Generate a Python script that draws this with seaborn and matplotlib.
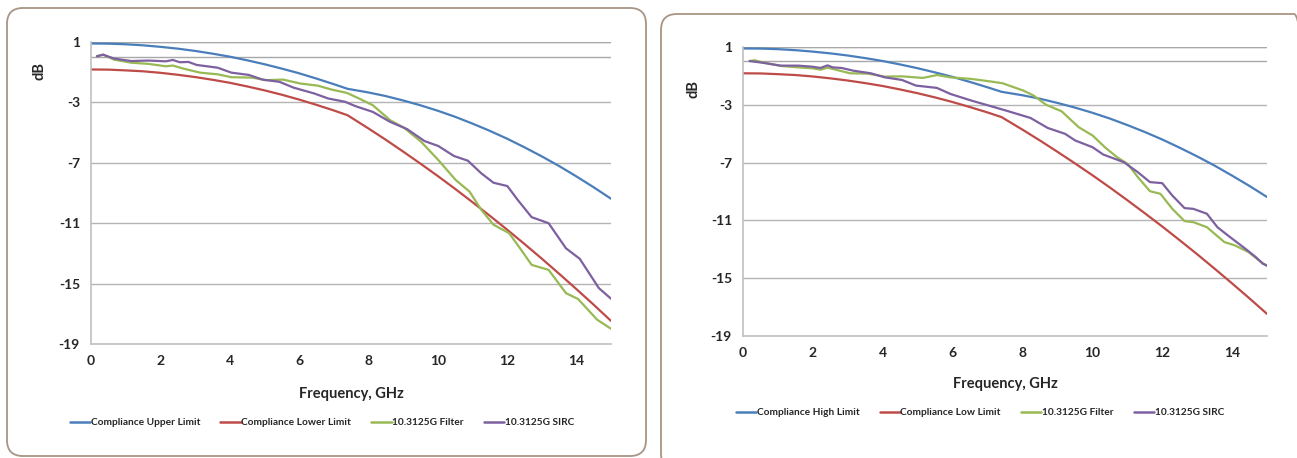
import numpy as np
import pandas as pd
import seaborn as sns
import matplotlib
matplotlib.use("Agg")
import matplotlib.pyplot as plt
from matplotlib.patches import FancyBboxPatch

# ---------------- data ----------------
limit_freq = [0, 0.5, 1, 1.5, 2, 2.5, 3, 3.5, 4, 4.5, 5, 5.5, 6, 6.5, 7, 7.4,
              8, 8.5, 9, 9.5, 10, 10.5, 11, 11.5, 12, 12.5, 13, 13.5, 14, 14.5, 15]
upper_limit = [0.90, 0.89, 0.85, 0.78, 0.68, 0.56, 0.41, 0.23, 0.03, -0.21, -0.47, -0.76,
               -1.07, -1.42, -1.79, -2.10, -2.34, -2.58, -2.87, -3.19, -3.55, -3.95, -4.40,
               -4.88, -5.40, -5.97, -6.57, -7.21, -7.90, -8.62, -9.38]
lower_limit = [-0.82, -0.83, -0.88, -0.94, -1.04, -1.17, -1.32, -1.50, -1.70, -1.94, -2.20,
               -2.49, -2.81, -3.16, -3.53, -3.85, -4.72, -5.47, -6.25, -7.05, -7.87, -8.72,
               -9.60, -10.50, -11.42, -12.37, -13.34, -14.34, -15.36, -16.40, -17.47]

# Left chart measurements
left_sirc_freq = [0.17, 0.35, 0.67, 1.16, 1.66, 2.16, 2.36, 2.56, 2.81, 3.05, 3.65, 4.05, 4.55,
                  4.95, 5.44, 5.84, 6.44, 6.84, 7.33, 7.63, 8.13, 8.63, 9.12, 9.62, 10.02, 10.47,
                  10.87, 11.26, 11.61, 12.01, 12.31, 12.71, 13.20, 13.70, 14.10, 14.65, 15.0]
left_sirc = [0.05, 0.16, -0.10, -0.26, -0.23, -0.28, -0.19, -0.34, -0.32, -0.52, -0.70, -1.03,
             -1.18, -1.49, -1.64, -2.02, -2.41, -2.74, -2.96, -3.25, -3.63, -4.29, -4.77, -5.56,
             -5.89, -6.55, -6.86, -7.70, -8.32, -8.54, -9.46, -10.60, -11.00, -12.66, -13.36,
             -15.30, -16.00]
left_filter_freq = [0.17, 0.35, 0.67, 1.16, 1.66, 2.16, 2.36, 2.66, 3.15, 3.65, 4.05, 4.65, 5.04,
                    5.54, 6.04, 6.54, 6.94, 7.38, 7.73, 8.13, 8.63, 9.03, 9.52, 10.02, 10.52,
                    10.92, 11.26, 11.61, 12.06, 12.41, 12.71, 13.20, 13.70, 14.05, 14.60, 15.0]
left_filter = [0.07, 0.16, -0.17, -0.37, -0.45, -0.61, -0.56, -0.76, -1.03, -1.14, -1.33, -1.36,
               -1.53, -1.49, -1.75, -1.89, -2.15, -2.37, -2.74, -3.19, -4.18, -4.68, -5.60, -6.82,
               -8.14, -8.91, -10.12, -11.10, -11.66, -12.77, -13.76, -14.09, -15.63, -16.02,
               -17.39, -17.99]

# Right chart measurements
right_sirc_freq = [0.19, 0.59, 1.08, 1.58, 1.97, 2.22, 2.42, 2.57, 2.82, 3.16, 3.66, 4.06, 4.55,
                   4.95, 5.55, 5.94, 6.54, 7.13, 7.53, 8.23, 8.72, 9.22, 9.51, 10.01, 10.31,
                   10.90, 11.30, 11.65, 12.00, 12.29, 12.64, 12.89, 13.28, 13.58, 13.88, 14.38,
                   14.68, 14.88, 15.0]
right_sirc = [0.03, -0.10, -0.29, -0.29, -0.36, -0.45, -0.27, -0.41, -0.45, -0.64, -0.82, -1.10,
              -1.28, -1.67, -1.83, -2.25, -2.71, -3.12, -3.40, -3.91, -4.60, -5.01, -5.47, -5.94,
              -6.44, -6.97, -7.66, -8.35, -8.42, -9.28, -10.15, -10.20, -10.54, -11.47, -12.04,
              -12.96, -13.54, -14.00, -14.12]
right_filter_freq = [0.19, 0.34, 0.59, 1.08, 1.58, 1.97, 2.22, 2.42, 2.77, 3.07, 3.56, 4.06, 4.55,
                     5.15, 5.55, 5.94, 6.54, 7.13, 7.43, 8.03, 8.32, 8.67, 9.12, 9.61, 10.01,
                     10.36, 10.71, 11.01, 11.30, 11.65, 11.95, 12.29, 12.64, 12.89, 13.28, 13.78,
                     14.08, 14.47, 14.77, 15.0]
right_filter = [0.03, 0.08, -0.08, -0.31, -0.41, -0.47, -0.57, -0.43, -0.64, -0.82, -0.84, -1.05,
                -1.03, -1.14, -0.94, -1.10, -1.21, -1.40, -1.51, -2.02, -2.36, -2.99, -3.45,
                -4.55, -5.13, -5.94, -6.63, -7.09, -8.00, -8.98, -9.16, -10.20, -11.05, -11.12,
                -11.47, -12.50, -12.73, -13.19, -13.77, -14.16]

left_labels = ["Compliance Upper Limit", "Compliance Lower Limit", "10.3125G Filter", "10.3125G SIRC"]
right_labels = ["Compliance High Limit", "Compliance Low Limit", "10.3125G Filter", "10.3125G SIRC"]
y_ticks = [1, -3, -7, -11, -15, -19]
x_ticks = [0, 2, 4, 6, 8, 10, 12, 14]

colors = ["#4A7EBB", "#BE4B48", "#98B954", "#7D60A0"]

# ---------------- style ----------------
sns.set_style("white")
plt.rcParams['font.family'] = ['Lato', 'DejaVu Sans']
plt.rcParams['axes.unicode_minus'] = False

W, H = 1297, 458
fig = plt.figure(figsize=(W / 100, H / 100), dpi=100)

def px_axes(x0, x1, ytop, ybot):
    return fig.add_axes([x0 / W, (H - ybot) / H, (x1 - x0) / W, (ybot - ytop) / H])

# frames
for (fx0, fy0, fx1, fy1) in [(7, 8, 646, 456), (661, 14, 1310, 470)]:
    patch = FancyBboxPatch((fx0 / 100, (H - fy1) / 100), (fx1 - fx0) / 100, (fy1 - fy0) / 100,
                           boxstyle="round,pad=0,rounding_size=0.16",
                           transform=fig.dpi_scale_trans, facecolor="none",
                           edgecolor="#A89484", linewidth=1.3, zorder=0)
    fig.patches.append(patch)

def draw(ax, series, labels, legend_x, legend_y, xlabel_pad):
    for (fx, fy), lab, col in zip(series, labels, colors):
        df = pd.DataFrame({"f": fx, "v": fy})
        sns.lineplot(data=df, x="f", y="v", ax=ax, color=col, linewidth=1.6,
                     label=lab, sort=False, estimator=None)
    ax.set_xlim(0, 15)
    ax.set_ylim(-19, 1)
    ax.set_yticks(y_ticks)
    ax.set_xticks(x_ticks)
    ax.tick_params(axis="both", length=0, labelsize=10, pad=8)
    for t in ax.get_xticklabels() + ax.get_yticklabels():
        t.set_fontweight("bold")
    ax.grid(axis="y", color="#B4B4B4", linewidth=1.0)
    ax.grid(axis="x", visible=False)
    ax.axhline(0, color="#A8A8A8", linewidth=1.0, zorder=1)
    ax.axhline(1, color="#A8A8A8", linewidth=1.0, zorder=1)
    for s in ["top", "right"]:
        ax.spines[s].set_visible(False)
    ax.spines["left"].set_color("#C0C0C0")
    ax.spines["bottom"].set_color("#C0C0C0")
    ax.spines["left"].set_linewidth(1.2)
    ax.spines["bottom"].set_linewidth(1.2)
    ax.set_xlabel("Frequency, GHz", fontsize=10.5, fontweight="bold", labelpad=xlabel_pad)
    ax.set_ylabel("dB", fontsize=10.5, fontweight="bold")
    leg = ax.legend(loc="center", bbox_to_anchor=(legend_x, legend_y), ncol=4, frameon=False,
                    handlelength=2.0, handletextpad=0.05, columnspacing=2.0,
                    prop={"weight": "bold", "size": 7.3})
    for line in leg.get_lines():
        line.set_linewidth(1.8)

axL = px_axes(91, 611, 42, 344)
draw(axL,
     [(limit_freq, upper_limit), (limit_freq, lower_limit),
      (left_filter_freq, left_filter), (left_sirc_freq, left_sirc)],
     left_labels, 0.444, -0.26, 14)
axL.yaxis.set_label_coords(-0.086, 0.905)

axR = px_axes(743, 1267, 47, 336)
draw(axR,
     [(limit_freq, upper_limit), (limit_freq, lower_limit),
      (right_filter_freq, right_filter), (right_sirc_freq, right_sirc)],
     right_labels, 0.452, -0.265, 13)
axR.yaxis.set_label_coords(-0.082, 0.855)

fig.savefig("out.png", dpi=100)
